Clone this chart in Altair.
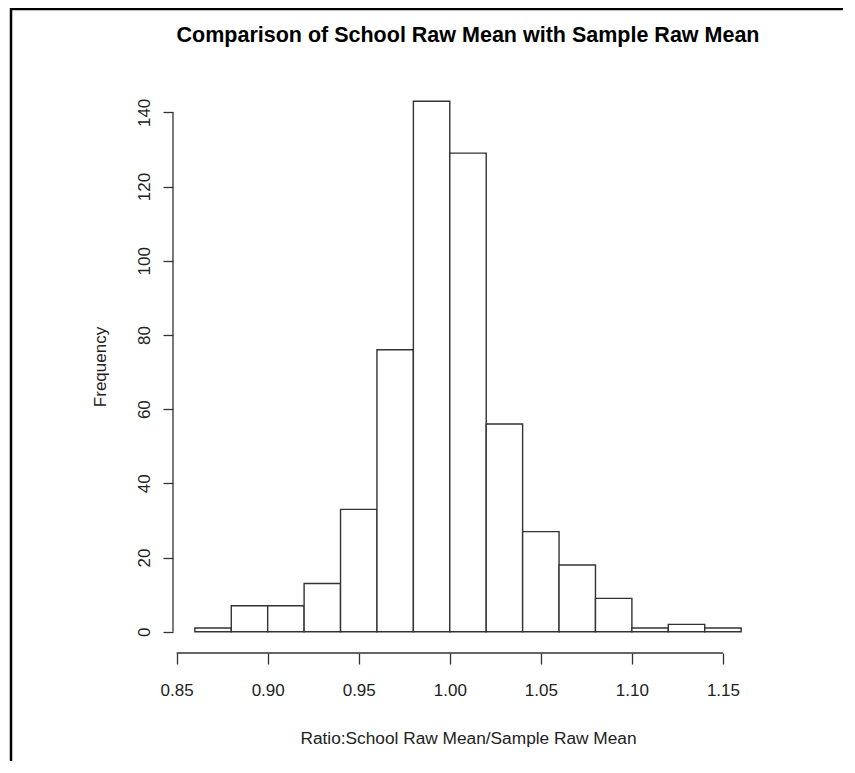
import altair as alt
import pandas as pd

# Histogram bins (ratio of school raw mean to sample raw mean)
bin_edges = [0.86, 0.88, 0.90, 0.92, 0.94, 0.96, 0.98, 1.00, 1.02,
             1.04, 1.06, 1.08, 1.10, 1.12, 1.14, 1.16]
counts = [1, 7, 7, 13, 33, 76, 143, 129, 56, 27, 18, 9, 1, 2, 1]
x_ticks = [0.85, 0.90, 0.95, 1.00, 1.05, 1.10, 1.15]
y_ticks = [0, 20, 40, 60, 80, 100, 120, 140]

title_text = "Comparison of School Raw Mean with Sample Raw Mean"
x_title = "Ratio:School Raw Mean/Sample Raw Mean"
y_title = "Frequency"

# R-style 4% axis expansion
x_lo, x_hi = bin_edges[0], bin_edges[-1]
y_lo, y_hi = 0, max(counts)
x_dom = [x_lo - 0.04 * (x_hi - x_lo), x_hi + 0.04 * (x_hi - x_lo)]
y_dom = [y_lo - 0.04 * (y_hi - y_lo), y_hi + 0.04 * (y_hi - y_lo)]

W, H = 590, 573
PAD = {"left": 165, "top": 72, "right": 80, "bottom": 108}
FONT = "Liberation Sans"
LINE = "#333333"
TXT = "#222222"

df = pd.DataFrame({
    "start": bin_edges[:-1],
    "end": bin_edges[1:],
    "zero": [0] * len(counts),
    "count": counts,
})

xs = alt.Scale(domain=x_dom, nice=False, zero=False)
ys = alt.Scale(domain=y_dom, nice=False, zero=False)

x_axis = alt.Axis(values=x_ticks, format=".2f", domain=False, grid=False,
                  tickSize=11, tickColor=LINE, tickWidth=1.3,
                  labelFont=FONT, labelFontSize=17, labelColor=TXT,
                  labelPadding=18, labelFlush=False, labelOverlap=False,
                  title=x_title, titleFont=FONT, titleFontSize=17.3,
                  titleFontWeight="normal", titleColor=TXT, titlePadding=31)
y_axis = alt.Axis(values=y_ticks, format="d", domain=False, grid=False,
                  tickSize=10, tickColor=LINE, tickWidth=1.3,
                  labelFont=FONT, labelFontSize=17, labelColor=TXT,
                  labelAngle=270, labelAlign="center", labelBaseline="bottom",
                  labelPadding=10, labelFlush=False, labelOverlap=False,
                  title=y_title, titleFont=FONT, titleFontSize=17,
                  titleFontWeight="normal", titleColor=TXT, titlePadding=26)

bars = alt.Chart(df).mark_rect(fill="white", stroke=LINE, strokeWidth=1.4).encode(
    x=alt.X("start:Q", scale=xs, axis=x_axis),
    x2="end:Q",
    y=alt.Y("zero:Q", scale=ys, axis=y_axis),
    y2="count:Q",
)

xline_df = pd.DataFrame({"x": [x_ticks[0]], "x2": [x_ticks[-1]], "y": [y_dom[0]]})
xline = alt.Chart(xline_df).mark_rule(color=LINE, strokeWidth=1.3).encode(
    x=alt.X("x:Q", scale=xs), x2="x2:Q", y=alt.Y("y:Q", scale=ys))

yline_df = pd.DataFrame({"x": [x_dom[0]], "y": [y_ticks[0]], "y2": [y_ticks[-1]]})
yline = alt.Chart(yline_df).mark_rule(color=LINE, strokeWidth=1.3).encode(
    x=alt.X("x:Q", scale=xs), y=alt.Y("y:Q", scale=ys), y2="y2:Q")

# chart title, centred over the plot region
title = alt.Chart(pd.DataFrame({"t": [title_text]})).mark_text(
    font=FONT, fontSize=21.5, fontWeight="bold", color="black",
    align="center", baseline="alphabetic").encode(
    text="t:N", x=alt.value(W / 2), y=alt.value(-38))

# outer frame of the figure (left and top edges)
frame_left = alt.Chart(pd.DataFrame({"a": [0]})).mark_rule(color="black", strokeWidth=2.5).encode(
    x=alt.value(-162), y=alt.value(-72), y2=alt.value(H + PAD["bottom"]))
frame_top = alt.Chart(pd.DataFrame({"a": [0]})).mark_rule(color="black", strokeWidth=2.5).encode(
    x=alt.value(-162), x2=alt.value(W + PAD["right"]), y=alt.value(-71))

chart = alt.layer(bars, xline, yline, title, frame_left, frame_top).properties(
    width=W, height=H,
    padding=PAD,
    autosize=alt.AutoSizeParams(type="none"),
).configure(
    background="white",
    view=alt.ViewConfig(stroke="transparent", strokeWidth=0),
)

chart.save("out.html", embed_options={"renderer": "svg", "actions": False})
